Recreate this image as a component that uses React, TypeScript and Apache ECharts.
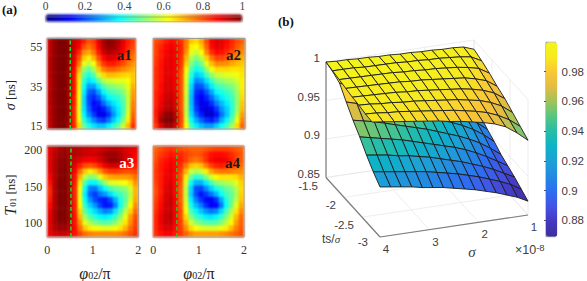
import React, { useEffect, useRef } from "react";
import * as echarts from "echarts";

const SERIF = "'Liberation Serif', 'DejaVu Serif', serif";
const SANS = "'Liberation Sans', Arial, sans-serif";

const JET = ["#00007f", "#0000ff", "#007fff", "#00ffff", "#7fff7f", "#ffff00", "#ff7f00", "#ff0000", "#7f0000"];
const PARULA = ["#3c2e9e", "#4437bf", "#4452e4", "#2f6cf2", "#2388e2", "#1e9fd6", "#0db2c8", "#23bdaa", "#55c584", "#9cc45c", "#e2bc42", "#fbc636", "#f6ea20", "#f4f41a"];

const a1 = [
  [.93,.98,1,1,.98,.93,.90,.85,.80,.82,.90,.96,.99,.98,.95,.90,.85,.82],
  [.93,.98,1,1,.98,.93,.88,.80,.76,.80,.88,.95,.98,.97,.94,.89,.84,.80],
  [.93,.98,1,1,.98,.92,.84,.74,.71,.76,.85,.92,.95,.94,.92,.88,.82,.78],
  [.94,.98,1,1,.97,.90,.80,.68,.64,.70,.80,.87,.91,.90,.88,.84,.80,.76],
  [.94,.98,1,1,.97,.89,.76,.60,.56,.62,.74,.82,.85,.85,.83,.80,.76,.73],
  [.94,.98,1,1,.96,.87,.70,.52,.47,.54,.68,.75,.78,.78,.76,.74,.72,.70],
  [.94,.98,1,1,.96,.86,.66,.46,.40,.46,.58,.66,.69,.69,.68,.67,.66,.68],
  [.93,.98,1,1,.96,.86,.64,.42,.35,.38,.47,.55,.58,.59,.60,.60,.62,.68],
  [.93,.98,1,1,.96,.86,.64,.38,.28,.28,.36,.45,.50,.51,.53,.55,.60,.70],
  [.94,.98,1,1,.96,.86,.63,.36,.22,.20,.28,.37,.43,.45,.47,.50,.58,.72],
  [.94,.98,1,1,.96,.85,.62,.34,.19,.16,.21,.30,.37,.40,.42,.47,.57,.73],
  [.94,.98,1,1,.96,.85,.61,.34,.20,.13,.15,.23,.30,.35,.39,.45,.57,.75],
  [.93,.98,1,1,.96,.84,.60,.35,.22,.14,.11,.15,.22,.30,.36,.44,.58,.76],
  [.93,.98,1,1,.96,.84,.61,.37,.26,.18,.11,.10,.17,.27,.35,.45,.60,.78],
  [.93,.98,1,1,.96,.84,.63,.42,.33,.26,.20,.18,.24,.32,.39,.50,.64,.80],
  [.93,.98,1,1,.95,.84,.66,.48,.40,.35,.32,.32,.36,.42,.48,.57,.69,.83],
];
const a2 = [
  [.80,.82,.85,.87,.86,.83,.76,.68,.66,.71,.80,.88,.91,.90,.87,.84,.80,.78],
  [.81,.84,.87,.89,.87,.84,.75,.64,.62,.68,.78,.87,.90,.89,.86,.83,.79,.76],
  [.81,.85,.88,.90,.88,.84,.73,.60,.57,.63,.74,.83,.87,.86,.83,.80,.76,.74],
  [.82,.85,.89,.90,.88,.83,.70,.55,.50,.56,.67,.76,.81,.81,.79,.76,.73,.71],
  [.82,.86,.89,.90,.88,.82,.67,.50,.44,.49,.60,.69,.74,.74,.73,.71,.69,.68],
  [.83,.86,.90,.90,.88,.81,.63,.45,.38,.42,.52,.61,.66,.66,.66,.65,.65,.66],
  [.83,.86,.90,.90,.88,.80,.60,.41,.32,.35,.44,.52,.57,.58,.60,.60,.61,.65],
  [.83,.86,.90,.91,.88,.80,.59,.37,.26,.28,.35,.43,.50,.52,.54,.55,.58,.64],
  [.83,.87,.91,.91,.88,.80,.58,.34,.20,.21,.28,.36,.43,.45,.48,.50,.55,.64],
  [.84,.87,.91,.92,.89,.80,.58,.32,.17,.15,.21,.29,.37,.40,.43,.46,.53,.65],
  [.84,.88,.92,.93,.90,.80,.57,.31,.15,.12,.16,.23,.31,.36,.40,.44,.52,.66],
  [.84,.89,.93,.94,.90,.80,.57,.31,.16,.10,.12,.17,.25,.31,.36,.42,.52,.68],
  [.85,.90,.94,.95,.91,.80,.56,.32,.18,.11,.08,.11,.18,.27,.33,.41,.53,.69],
  [.85,.93,.98,.99,.93,.81,.57,.34,.22,.15,.08,.07,.14,.24,.32,.43,.56,.72],
  [.84,.96,1,1,.95,.81,.59,.38,.29,.22,.17,.15,.20,.30,.37,.47,.61,.75],
  [.82,.90,.96,.97,.91,.80,.62,.44,.36,.31,.28,.28,.33,.39,.45,.54,.66,.78],
];
const a3 = [
  [.90,.93,.96,.97,.96,.95,.94,.93,.92,.91,.92,.93,.94,.94,.93,.91,.90,.89],
  [.90,.94,.97,.98,.96,.95,.94,.93,.92,.92,.94,.96,.97,.97,.95,.92,.90,.88],
  [.90,.95,.98,.99,.96,.93,.91,.89,.88,.89,.92,.95,.98,.98,.96,.92,.89,.87],
  [.90,.95,.98,.99,.96,.90,.85,.80,.79,.81,.85,.89,.92,.92,.90,.88,.86,.85],
  [.90,.95,.99,1,.96,.88,.77,.68,.64,.67,.73,.79,.82,.82,.81,.80,.80,.81],
  [.88,.95,.99,1,.96,.86,.70,.56,.50,.52,.60,.68,.71,.72,.72,.72,.73,.77],
  [.86,.95,1,1,.96,.85,.65,.45,.37,.37,.44,.53,.59,.60,.61,.62,.66,.73],
  [.84,.95,1,1,.96,.84,.62,.38,.25,.24,.32,.38,.45,.48,.50,.52,.58,.70],
  [.84,.95,1,1,.96,.84,.60,.36,.22,.18,.24,.28,.34,.40,.44,.48,.56,.70],
  [.85,.95,1,1,.96,.84,.61,.38,.27,.20,.16,.15,.20,.30,.40,.47,.58,.71],
  [.87,.95,1,1,.96,.85,.63,.42,.33,.27,.19,.14,.15,.25,.39,.50,.62,.74],
  [.89,.96,1,1,.96,.85,.66,.47,.39,.34,.29,.25,.27,.35,.45,.56,.67,.77],
  [.90,.96,1,1,.96,.86,.69,.53,.46,.41,.37,.36,.38,.44,.51,.61,.72,.80],
  [.90,.96,.99,.99,.95,.86,.73,.60,.54,.50,.47,.46,.47,.51,.57,.65,.74,.81],
  [.90,.95,.97,.97,.94,.87,.77,.68,.64,.62,.61,.60,.60,.62,.65,.70,.77,.82],
  [.89,.92,.93,.93,.91,.86,.81,.77,.75,.74,.74,.74,.74,.74,.75,.77,.80,.83],
];
const a4 = [
  [.78,.80,.82,.83,.82,.80,.79,.78,.78,.78,.79,.80,.81,.81,.81,.80,.79,.78],
  [.79,.82,.84,.86,.85,.84,.82,.80,.79,.80,.83,.86,.87,.87,.86,.84,.81,.79],
  [.80,.84,.86,.88,.87,.85,.82,.78,.76,.78,.83,.87,.89,.89,.88,.85,.82,.79],
  [.81,.85,.87,.89,.87,.83,.76,.69,.67,.69,.75,.81,.84,.85,.84,.81,.79,.77],
  [.82,.85,.88,.90,.87,.81,.70,.58,.54,.57,.64,.71,.75,.76,.76,.75,.74,.74],
  [.82,.85,.89,.90,.87,.80,.64,.48,.41,.43,.50,.58,.63,.65,.65,.65,.66,.70],
  [.81,.85,.89,.91,.87,.79,.59,.39,.30,.30,.36,.44,.51,.53,.55,.56,.60,.67],
  [.80,.85,.90,.92,.87,.78,.57,.34,.20,.19,.26,.33,.39,.43,.47,.50,.55,.66],
  [.80,.85,.91,.92,.87,.78,.57,.33,.20,.14,.18,.24,.30,.38,.44,.47,.54,.67],
  [.81,.86,.91,.93,.88,.78,.58,.36,.25,.18,.13,.12,.17,.29,.40,.47,.56,.68],
  [.82,.87,.92,.93,.88,.79,.60,.40,.31,.25,.17,.12,.13,.24,.38,.49,.60,.71],
  [.83,.88,.92,.93,.88,.80,.63,.45,.37,.32,.27,.24,.26,.34,.44,.54,.65,.74],
  [.84,.89,.93,.94,.88,.80,.66,.51,.44,.40,.36,.35,.37,.43,.50,.59,.69,.77],
  [.84,.89,.93,.93,.88,.81,.70,.58,.52,.48,.46,.45,.46,.50,.56,.63,.72,.78],
  [.84,.88,.91,.91,.87,.82,.74,.66,.62,.60,.59,.59,.59,.61,.64,.69,.75,.79],
  [.83,.86,.88,.88,.85,.82,.78,.74,.72,.72,.72,.72,.72,.73,.74,.76,.78,.80],
];

// upper and lower sheets of the surface; columns run from sigma = 4 to sigma = 1
const lowerSheet = [
  [1.000,.995,.990,.985,.979,.973,.967,.961,.955,.949,.943,.936,.930,.924,.917],
  [.997,.991,.985,.979,.973,.967,.961,.955,.949,.944,.938,.932,.925,.918,.910],
  [.992,.986,.980,.975,.969,.963,.957,.952,.946,.941,.935,.929,.922,.914,.903],
  [.977,.973,.969,.965,.960,.955,.950,.945,.940,.935,.930,.924,.917,.908,.897],
  [.963,.960,.957,.953,.949,.945,.941,.937,.932,.927,.922,.916,.909,.900,.890],
  [.951,.948,.945,.942,.939,.935,.931,.927,.923,.919,.914,.908,.901,.893,.885],
  [.937,.935,.933,.930,.928,.925,.922,.918,.914,.910,.905,.900,.894,.887,.880],
  [.925,.923,.921,.919,.917,.915,.912,.909,.906,.902,.898,.893,.888,.882,.874],
  [.915,.913,.911,.909,.906,.904,.902,.899,.896,.893,.889,.885,.880,.875,.868],
];
const upperSheet = [
  [1.000,.999,.999,.998,.998,.997,.997,.996,.996,.995,.995,.994,.994,.993,.988],
  [.998,.998,.998,.997,.997,.997,.997,.996,.996,.995,.995,.994,.993,.991,.984],
  [.996,.996,.996,.996,.996,.996,.995,.995,.994,.994,.993,.992,.990,.987,.979],
  [.994,.994,.994,.994,.994,.994,.993,.993,.992,.991,.990,.989,.986,.982,.973],
  [.992,.992,.992,.992,.992,.991,.991,.990,.989,.988,.987,.985,.982,.977,.968],
  [.991,.991,.990,.990,.989,.989,.988,.987,.986,.985,.983,.981,.977,.971,.961],
  [.989,.989,.988,.988,.987,.986,.985,.984,.983,.981,.979,.976,.971,.964,.954],
  [.988,.987,.986,.985,.984,.983,.982,.980,.979,.977,.975,.972,.967,.958,.947],
];
// sheet footprints as [sigma, ts] at back-left, back-right, front-left, front-right
const lowerFootprint = [[4, -1.5], [1, -1.5], [4, -3], [1, -3]];
const upperFootprint = [[4, -1.5], [1, -1.5], [4, -2.78], [1, -3]];

const sigmaTicks = [1, 2, 3, 4];
const tsTicks = [-1.5, -2, -2.5, -3];
const zTicks = [0.85, 0.9, 0.95, 1];
const barTicks = [0.88, 0.9, 0.92, 0.94, 0.96, 0.98];
const heatTicks = [0, 0.2, 0.4, 0.6, 0.8, 1];
const sigmaNsTicks = [15, 35, 55];
const t01Ticks = [100, 150, 200];
const greenLine = 0.52;

const project = (s: number, t: number, z: number): [number, number] => [
  326 + (4 - s) * 49.33 + (-1.5 - t) * 36,
  177.5 - (4 - s) * 7.33 + (-1.5 - t) * 39.67 - (z - 0.85) * 770,
];

function quadsOf(sheet: number[][], fp: number[][]) {
  const rows = sheet.length, cols = sheet[0].length;
  const place = (r: number, c: number) => {
    const u = c / (cols - 1), v = r / (rows - 1);
    const s = (1 - v) * ((1 - u) * fp[0][0] + u * fp[1][0]) + v * ((1 - u) * fp[2][0] + u * fp[3][0]);
    const t = (1 - v) * ((1 - u) * fp[0][1] + u * fp[1][1]) + v * ((1 - u) * fp[2][1] + u * fp[3][1]);
    return project(s, t, sheet[r][c]);
  };
  const out: { pts: [number, number][]; z: number }[] = [];
  for (let r = 0; r < rows - 1; r++)
    for (let c = cols - 2; c >= 0; c--)
      out.push({
        pts: [place(r, c), place(r, c + 1), place(r + 1, c + 1), place(r + 1, c)],
        z: (sheet[r][c] + sheet[r][c + 1] + sheet[r + 1][c] + sheet[r + 1][c + 1]) / 4,
      });
  return out;
}

function boxSegments() {
  const seg: { a: [number, number]; b: [number, number]; axis: boolean }[] = [];
  const add = (p: number[], q: number[], axis = false) =>
    seg.push({ a: project(p[0], p[1], p[2]), b: project(q[0], q[1], q[2]), axis });
  zTicks.forEach((z) => {
    add([4, -1.5, z], [1, -1.5, z]);
    add([1, -1.5, z], [1, -3, z]);
  });
  sigmaTicks.forEach((s) => {
    add([s, -1.5, 0.85], [s, -1.5, 1]);
    add([s, -1.5, 0.85], [s, -3, 0.85]);
  });
  tsTicks.forEach((t) => {
    add([1, t, 0.85], [1, t, 1]);
    add([4, t, 0.85], [1, t, 0.85]);
  });
  add([4, -1.5, 0.85], [4, -1.5, 1], true);
  add([4, -1.5, 0.85], [4, -3, 0.85], true);
  add([4, -3, 0.85], [1, -3, 0.85], true);
  return seg;
}

const PANELS = [
  { name: "a1", data: a1, left: 47.3, top: 38.5, w: 88.4, h: 90.5, y: [13.5, 59.4], ticks: sigmaNsTicks, xl: false, yl: true, lw: 1.6, label: "#1a1a1a" },
  { name: "a2", data: a2, left: 153.3, top: 38.5, w: 91.7, h: 90.5, y: [13.5, 59.4], ticks: sigmaNsTicks, xl: false, yl: false, lw: 1, label: "#1a1a1a" },
  { name: "a3", data: a3, left: 47.3, top: 146, w: 91, h: 91, y: [80.8, 205.5], ticks: t01Ticks, xl: true, yl: true, lw: 1.6, label: "#ffffff" },
  { name: "a4", data: a4, left: 153.3, top: 146, w: 90.7, h: 91, y: [80.8, 205.5], ticks: t01Ticks, xl: true, yl: false, lw: 1.2, label: "#1a1a1a" },
];

function heatOption() {
  return {
    animation: false,
    grid: PANELS.map((p) => ({ left: p.left, top: p.top, width: p.w, height: p.h })),
    xAxis: PANELS.map((p, i) => ({ type: "category", gridIndex: i, show: false, data: p.data[0].map((_, c) => c) })),
    yAxis: PANELS.map((p, i) => ({ type: "category", gridIndex: i, show: false, inverse: true, data: p.data.map((_, r) => r) })),
    visualMap: {
      type: "continuous", min: 0, max: 1, orient: "horizontal", left: 45.7, top: 14.3,
      itemHeight: 196.6, itemWidth: 7.4, padding: 0, showLabel: false, calculable: false,
      inRange: { color: JET }, seriesIndex: [0, 1, 2, 3], hoverLink: false,
    },
    series: PANELS.map((p, i) => ({
      type: "heatmap", xAxisIndex: i, yAxisIndex: i, itemStyle: { borderWidth: 0 },
      data: p.data.flatMap((row, r) => row.map((v, c) => [c, r, v])),
    })),
  };
}

function overlayOption() {
  const frame = "#9a9a9a";
  const numStyle = { color: "#333", fontFamily: SERIF, fontSize: 12 };
  const segs = boxSegments();
  const quads = [...quadsOf(lowerSheet, lowerFootprint), ...quadsOf(upperSheet, upperFootprint)];
  const barGrid = { left: 546, top: 42.3, width: 11.3, height: 194.4, show: true, borderColor: "#8a8a8a", borderWidth: 1, backgroundColor: "transparent" };
  const topGrid = { left: 45.7, top: 14.3, width: 196.6, height: 7.4, show: true, borderColor: "#8a8a8a", borderWidth: 0.6, backgroundColor: "transparent" };
  const label3d = (text: string, at: [number, number], dx: number, dy: number, align: string) => ({
    type: "text", silent: true,
    style: { text, x: at[0] + dx, y: at[1] + dy, align, verticalAlign: "middle", fill: "#404040", font: `11.5px ${SANS}` },
  });
  return {
    animation: false,
    grid: [...PANELS.map((p) => ({ left: p.left, top: p.top, width: p.w, height: p.h, show: true, borderColor: frame, borderWidth: 1, backgroundColor: "transparent" })), topGrid, barGrid],
    xAxis: [
      ...PANELS.map((p, i) => ({
        type: "value", gridIndex: i, min: 0, max: 2, interval: 1,
        axisLine: { show: false }, axisTick: { show: false }, splitLine: { show: false },
        axisLabel: { show: p.xl, margin: 7, hideOverlap: false, showMinLabel: true, showMaxLabel: true, ...numStyle },
      })),
      {
        type: "value", gridIndex: 4, min: 0, max: 1, interval: 0.2, position: "top",
        axisLine: { show: false }, axisTick: { show: false }, splitLine: { show: false },
        axisLabel: { margin: 5, showMinLabel: true, showMaxLabel: true, ...numStyle, fontSize: 11.5, color: "#444", formatter: (v: number) => String(Number(v.toFixed(1))), customValues: heatTicks },
      },
      { type: "value", gridIndex: 5, show: false, min: 0, max: 1 },
    ],
    yAxis: [
      ...PANELS.map((p, i) => ({
        type: "value", gridIndex: i, min: p.y[0], max: p.y[1],
        axisLine: { show: false }, axisTick: { show: false }, splitLine: { show: false },
        axisLabel: { show: p.yl, margin: 5, customValues: p.ticks, ...numStyle },
      })),
      { type: "value", gridIndex: 4, show: false, min: 0, max: 1 },
      {
        type: "value", gridIndex: 5, min: 0.869, max: 0.9997, position: "right",
        axisLine: { show: false }, splitLine: { show: false },
        axisTick: { show: true, customValues: barTicks, inside: true, length: 2, lineStyle: { color: "#555" } },
        axisLabel: { margin: 6, customValues: barTicks, color: "#404040", fontFamily: SANS, fontSize: 11.5, formatter: (v: number) => String(Number(v.toFixed(2))) },
      },
    ],
    visualMap: {
      type: "continuous", min: 0.869, max: 0.9997, dimension: 2, seriesIndex: PANELS.length + 1,
      orient: "vertical", left: 546, top: 42.3, itemWidth: 11.3, itemHeight: 194.4, padding: 0,
      showLabel: false, calculable: false, hoverLink: false, inRange: { color: PARULA },
    },
    series: [
      ...PANELS.map((p, i) => ({
        type: "line", xAxisIndex: i, yAxisIndex: i, symbol: "none", silent: true,
        lineStyle: { color: "#1fdc1f", width: p.lw, type: [4, 2.5] },
        data: [[greenLine, p.y[0]], [greenLine, p.y[1]]],
      })),
      {
        type: "custom", coordinateSystem: "none", silent: true, z: 1,
        data: segs.map((_, i) => [i]),
        renderItem: (params: any) => {
          const s = segs[params.dataIndex];
          return {
            type: "line",
            shape: { x1: s.a[0], y1: s.a[1], x2: s.b[0], y2: s.b[1] },
            style: { stroke: s.axis ? "#7d7d7d" : "#e8e8e8", lineWidth: s.axis ? 1.2 : 0.8 },
          };
        },
      },
      {
        type: "custom", coordinateSystem: "none", silent: true, z: 3,
        data: quads.map((q, i) => [i, i, q.z]),
        renderItem: (params: any, api: any) => ({
          type: "polygon",
          shape: { points: quads[params.dataIndex].pts },
          style: { fill: api.visual("color"), stroke: "#1c1c1c", lineWidth: 0.9, lineJoin: "round" },
        }),
      },
    ],
    graphic: [
      { type: "text", silent: true, style: { text: "(a)", x: 2, y: 9, verticalAlign: "middle", fill: "#111", font: `bold 13px ${SERIF}` } },
      { type: "text", silent: true, style: { text: "(b)", x: 278, y: 21.5, verticalAlign: "middle", fill: "#111", font: `bold 13px ${SERIF}` } },
      ...PANELS.map((p) => ({
        type: "text", silent: true, z: 10,
        style: { text: p.name, x: p.left + p.w - 4, y: p.top + 16.5, align: "right", verticalAlign: "middle", fill: p.label, font: `bold 15px ${SERIF}` },
      })),
      {
        type: "text", silent: true, x: 10, y: 95, rotation: Math.PI / 2,
        style: { text: "{i|σ} [ns]", align: "center", verticalAlign: "middle", fill: "#222", font: `13px ${SERIF}`, rich: { i: { fontStyle: "italic", fontSize: 14, fontFamily: SERIF, fill: "#222" } } },
      },
      {
        type: "text", silent: true, x: 10, y: 195, rotation: Math.PI / 2,
        style: { text: "{i|T}{s|01} [ns]", align: "center", verticalAlign: "middle", fill: "#222", font: `13px ${SERIF}`, rich: { i: { fontStyle: "italic", fontSize: 16, fontFamily: SERIF, fill: "#222" }, s: { fontSize: 9, fontFamily: SERIF, fill: "#222", padding: [6, 0, 0, 0] } } },
      },
      ...[95, 199].map((x) => ({
        type: "text", silent: true, x, y: 273,
        style: { text: "{i|φ}{s|02}{n|/π}", align: "center", verticalAlign: "middle", fill: "#222", rich: { i: { fontStyle: "italic", fontSize: 16, fontFamily: SERIF, fill: "#222" }, s: { fontSize: 10, fontFamily: SERIF, fill: "#222", padding: [5, 0, 0, 0] }, n: { fontSize: 16, fontFamily: SERIF, fill: "#222" } } },
      })),
      ...zTicks.map((z) => label3d(String(z), project(4, -1.5, z), -6, -4, "right")),
      ...tsTicks.map((t) => label3d(String(t), project(4, t, 0.85), t === -3 ? -12 : -8, t === -3 ? 5 : 8, "right")),
      ...sigmaTicks.map((s) => label3d(String(s), project(s, -3, 0.85), 6, 12, "center")),
      {
        type: "text", silent: true,
        style: { text: "ts/{i|σ}", x: 322, y: 239, verticalAlign: "middle", fill: "#404040", font: `12px ${SANS}`, rich: { i: { fontStyle: "italic", fontFamily: SERIF, fontSize: 11, fill: "#404040" } } },
      },
      { type: "text", silent: true, style: { text: "σ", x: 472, y: 252, align: "center", verticalAlign: "middle", fill: "#404040", font: `italic 15px ${SERIF}` } },
      {
        type: "text", silent: true,
        style: { text: "×10{s|-8}", x: 515, y: 250, verticalAlign: "middle", fill: "#404040", font: `12.5px ${SANS}`, rich: { s: { fontSize: 9.5, fontFamily: SANS, fill: "#404040", padding: [0, 0, 6, 0] } } },
      },
    ],
  };
}

export default function App() {
  const heatRef = useRef<HTMLDivElement>(null);
  const topRef = useRef<HTMLDivElement>(null);
  useEffect(() => {
    const heat = echarts.init(heatRef.current!, undefined, { renderer: "svg" });
    const top = echarts.init(topRef.current!, undefined, { renderer: "svg" });
    heat.setOption(heatOption() as any);
    top.setOption(overlayOption() as any);
    return () => {
      heat.dispose();
      top.dispose();
    };
  }, []);
  const box: React.CSSProperties = { position: "absolute", left: 0, top: 0, width: 587, height: 281 };
  return (
    <div style={{ position: "fixed", left: 0, top: 0, width: 587, height: 281, overflow: "hidden", background: "#fff" }}>
      <div ref={heatRef} style={{ ...box, filter: "blur(1.2px)" }} />
      <div ref={topRef} style={box} />
    </div>
  );
}
